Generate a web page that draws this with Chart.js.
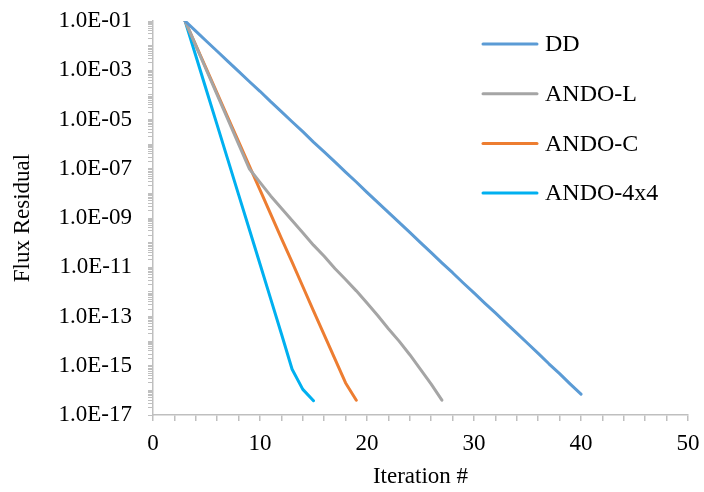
<!DOCTYPE html>
<html>
<head>
<meta charset="utf-8">
<script src="https://cdn.jsdelivr.net/npm/chart.js@4.4.1/dist/chart.umd.min.js"></script>
<style>
  html, body { margin: 0; padding: 0; background: #fff; }
</style>
</head>
<body>
<canvas id="chart" width="704" height="492"></canvas>
<script>
// values
const seriesNames = ['DD', 'ANDO-L', 'ANDO-C', 'ANDO-4x4'];
const seriesColors = ['#5B9BD5', '#A5A5A5', '#ED7D31', '#00B0F0'];

const ddIter = [3, 4, 5, 6, 7, 8, 9, 10, 11, 12, 13, 14, 15, 16, 17, 18, 19, 20, 21,
                22, 23, 24, 25, 26, 27, 28, 29, 30, 31, 32, 33, 34, 35, 36, 37, 38, 39, 40];
const ddResidual = [1.0e-1, 3.9e-2, 1.5e-2, 5.9e-3, 2.3e-3, 9.0e-4, 3.5e-4, 1.4e-4, 5.3e-5, 2.1e-5,
                    8.1e-6, 3.2e-6, 1.2e-6, 4.8e-7, 1.9e-7, 7.3e-8, 2.9e-8, 1.1e-8, 4.3e-9, 1.7e-9,
                    6.6e-10, 2.6e-10, 1.0e-10, 3.9e-11, 1.5e-11, 6.0e-12, 2.3e-12, 9.1e-13, 3.5e-13, 1.4e-13,
                    5.4e-14, 2.1e-14, 8.2e-15, 3.2e-15, 1.2e-15, 4.8e-16, 1.8e-16, 7.0e-17];

const andoLIter = [3, 4, 5, 6, 7, 8, 9, 10, 11, 12, 13, 14, 15, 16, 17, 18, 19, 20, 21,
                   22, 23, 24, 25, 26, 27];
const andoLResidual = [1.0e-1, 1.0e-2, 1.0e-3, 1.0e-4, 1.0e-5, 1.0e-6, 1.0e-7, 2.8e-8, 7.9e-9, 2.5e-9,
                       7.9e-10, 2.5e-10, 7.9e-11, 2.8e-11, 8.9e-12, 3.2e-12, 1.1e-12, 3.5e-13, 1.1e-13, 3.2e-14,
                       1.0e-14, 2.8e-15, 7.1e-16, 1.8e-16, 4.0e-17];

const andoCIter = [3, 4, 5, 6, 7, 8, 9, 10, 11, 12, 13, 14, 15, 16, 17, 18, 19];
const andoCResidual = [1.0e-1, 1.05e-2, 1.1e-3, 1.15e-4, 1.2e-5, 1.26e-6, 1.3e-7, 1.4e-8, 1.45e-9, 1.5e-10,
                       1.6e-11, 1.65e-12, 1.7e-13, 1.8e-14, 1.9e-15, 2.0e-16, 4.0e-17];

const ando4Iter = [3, 4, 5, 6, 7, 8, 9, 10, 11, 12, 13, 14, 15];
const ando4Residual = [1.0e-1, 3.9e-3, 1.5e-4, 5.9e-6, 2.3e-7, 8.9e-9, 3.5e-10, 1.35e-11, 5.2e-13, 2.0e-14,
                       7.2e-16, 1.1e-16, 3.8e-17];

const xTickLabels = ['0', '10', '20', '30', '40', '50'];
const yTickLabels = ['1.0E-01', '1.0E-03', '1.0E-05', '1.0E-07', '1.0E-09',
                     '1.0E-11', '1.0E-13', '1.0E-15', '1.0E-17'];

const FONT = 'Liberation Serif, Times New Roman, serif';
const AXIS_GRAY = '#bfbfbf';

function toPoints(xs, ys) {
    return xs.map((x, i) => ({ x: x, y: ys[i] }));
}

const seriesPoints = [
    toPoints(ddIter, ddResidual),
    toPoints(andoLIter, andoLResidual),
    toPoints(andoCIter, andoCResidual),
    toPoints(ando4Iter, ando4Residual)
];

// legend drawn inside the plot, like the Excel original
const insideLegend = {
    id: 'insideLegend',
    afterDatasetsDraw(chart) {
        const ctx = chart.ctx;
        const lineX0 = 483, lineX1 = 537, textX = 545;
        const firstY = 44, gap = 49.7;
        ctx.save();
        ctx.font = '24px ' + FONT;
        ctx.textBaseline = 'middle';
        ctx.textAlign = 'left';
        chart.data.datasets.forEach((ds, i) => {
            const y = firstY + i * gap;
            ctx.strokeStyle = ds.borderColor;
            ctx.lineWidth = 3;
            ctx.lineCap = 'round';
            ctx.beginPath();
            ctx.moveTo(lineX0, y);
            ctx.lineTo(lineX1, y);
            ctx.stroke();
            ctx.fillStyle = '#000';
            ctx.fillText(ds.label, textX, y + 1);
        });
        ctx.restore();
    }
};

const ctx = document.getElementById('chart').getContext('2d');
const chart = new Chart(ctx, {
    type: 'line',
    data: {
        datasets: seriesNames.map((name, i) => ({
            label: name,
            data: seriesPoints[i],
            borderColor: seriesColors[i],
            backgroundColor: seriesColors[i],
            borderWidth: 3,
            pointRadius: 0,
            tension: 0,
            fill: false,
            borderCapStyle: 'round',
            borderJoinStyle: 'round'
        }))
    },
    options: {
        responsive: false,
        animation: false,
        layout: { padding: 0 },
        plugins: {
            legend: { display: false },
            tooltip: { enabled: false }
        },
        scales: {
            x: {
                type: 'linear',
                min: 0,
                max: 50,
                border: { color: AXIS_GRAY, width: 1.5 },
                grid: { drawOnChartArea: false, drawTicks: true, tickLength: 6, color: AXIS_GRAY, lineWidth: 1.5 },
                ticks: {
                    stepSize: 2,
                    autoSkip: false,
                    maxRotation: 0,
                    padding: 9,
                    color: '#000',
                    font: { family: FONT, size: 23 },
                    callback: function(v) {
                        return v % 10 === 0 ? xTickLabels[v / 10] : '';
                    }
                },
                title: {
                    display: true,
                    text: 'Iteration #',
                    color: '#000',
                    font: { family: FONT, size: 23 },
                    padding: { top: 0, bottom: 1 }
                },
                afterFit: function(scale) {
                    scale.height = 77;
                    scale.paddingLeft = 0;
                    scale.paddingRight = 16;
                }
            },
            y: {
                type: 'logarithmic',
                min: 1e-17,
                max: 1e-1,
                border: { color: AXIS_GRAY, width: 1.5 },
                grid: { drawOnChartArea: false, drawTicks: true, tickLength: 5, color: AXIS_GRAY, lineWidth: 1 },
                afterBuildTicks: function(scale) {
                    const t = [];
                    for (let e = -17; e <= -1; e++) {
                        for (let m = 1; m <= 9; m++) {
                            if (e === -1 && m > 1) break;
                            t.push({ value: m * Math.pow(10, e) });
                        }
                    }
                    scale.ticks = t;
                },
                ticks: {
                    autoSkip: false,
                    padding: 16,
                    color: '#000',
                    font: { family: FONT, size: 23 },
                    callback: function(v) {
                        const e = Math.round(Math.log10(v));
                        const m = v / Math.pow(10, e);
                        if (Math.abs(m - 1) > 1e-6 || e % 2 === 0) return '';
                        return yTickLabels[(-1 - e) / 2];
                    }
                },
                title: {
                    display: true,
                    text: 'Flux Residual',
                    color: '#000',
                    font: { family: FONT, size: 23 },
                    padding: { top: 9, bottom: 0 }
                },
                afterFit: function(scale) {
                    scale.width = 153;
                    scale.paddingTop = 21;
                    scale.paddingBottom = 0;
                }
            }
        }
    },
    plugins: [insideLegend]
});
</script>
</body>
</html>
